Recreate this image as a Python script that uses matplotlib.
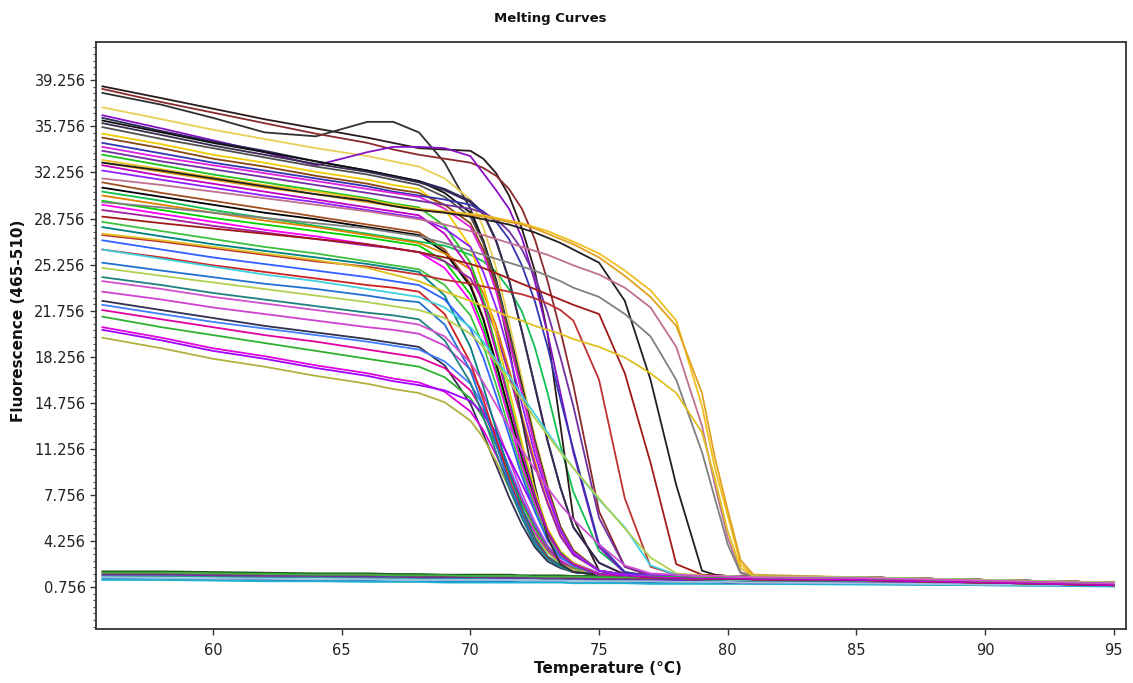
import matplotlib
matplotlib.use("Agg")
from matplotlib import pyplot as plt
from matplotlib.ticker import FixedLocator
import numpy as np

# temperature grid (deg C) shared by every curve
temps = [55.7, 58, 60, 62, 64, 66, 67, 68, 69, 70, 70.5, 71, 71.5, 72, 72.5,
         73, 73.5, 74, 75, 76, 77, 78, 79, 79.5, 80, 80.5, 81, 85, 90, 95]

# upper part of the main melting cluster
high_curves = [
    [38.8, 37.9, 37.1, 36.3, 35.6, 34.9, 34.5, 34.1, 34.0, 33.9, 33.3, 32.2, 30.5, 28.0, 24.8, 20.0, 13.0, 6.0, 2.0, 1.7, 1.6, 1.55, 1.5, 1.5, 1.5, 1.5, 1.45, 1.4, 1.2, 1.0],
    [38.3, 37.4, 36.4, 35.3, 35.0, 36.1, 36.1, 35.3, 33.0, 29.5, 27.0, 23.5, 19.0, 13.5, 8.5, 4.5, 2.5, 1.9, 1.7, 1.65, 1.6, 1.55, 1.5, 1.5, 1.5, 1.5, 1.45, 1.4, 1.2, 1.0],
    [38.6, 37.6, 36.8, 36.0, 35.2, 34.5, 34.0, 33.6, 33.3, 33.0, 32.6, 32.0, 31.0, 29.5, 27.2, 24.0, 20.2, 16.1, 6.5, 2.3, 1.6, 1.55, 1.5, 1.5, 1.5, 1.5, 1.45, 1.4, 1.2, 1.0],
    [37.2, 36.3, 35.5, 34.8, 34.1, 33.5, 33.1, 32.7, 31.8, 30.2, 28.1, 25.0, 20.9, 16.6, 12.2, 8.5, 5.4, 3.6, 2.0, 1.7, 1.7, 1.65, 1.6, 1.6, 1.6, 1.55, 1.55, 1.5, 1.3, 1.1],
    [36.6, 35.6, 34.7, 33.8, 32.8, 33.8, 34.2, 34.2, 34.1, 33.5, 32.2, 30.9, 29.5, 27.3, 24.0, 20.0, 15.5, 11.0, 3.8, 1.8, 1.7, 1.65, 1.6, 1.6, 1.6, 1.55, 1.55, 1.5, 1.3, 1.1],
    [36.4, 35.4, 34.6, 33.9, 33.1, 32.4, 32.0, 31.6, 31.0, 30.1, 29.2, 27.1, 24.1, 20.2, 16.1, 11.9, 8.3, 5.3, 2.6, 1.7, 1.6, 1.55, 1.5, 1.5, 1.5, 1.5, 1.45, 1.4, 1.2, 1.0],
    [36.2, 35.3, 34.5, 33.8, 33.1, 32.4, 32.0, 31.6, 30.7, 29.2, 27.1, 24.1, 20.2, 16.1, 11.9, 8.3, 5.3, 3.5, 2.0, 1.7, 1.5, 1.45, 1.4, 1.4, 1.4, 1.4, 1.35, 1.3, 1.1, 0.9],
    [36.0, 35.1, 34.3, 33.6, 32.9, 32.3, 31.9, 31.5, 30.9, 30.0, 29.1, 27.0, 24.1, 20.2, 16.0, 11.8, 8.3, 5.3, 2.6, 1.7, 1.7, 1.65, 1.6, 1.6, 1.6, 1.55, 1.55, 1.5, 1.3, 1.1],
    [35.7, 34.8, 34.1, 33.4, 32.7, 32.1, 31.7, 31.3, 30.4, 28.9, 26.9, 23.9, 20.1, 15.9, 11.8, 8.2, 5.3, 3.5, 2.0, 1.7, 1.6, 1.55, 1.5, 1.5, 1.5, 1.5, 1.45, 1.4, 1.2, 1.0],
    [35.2, 34.4, 33.6, 33.0, 32.3, 31.7, 31.3, 31.0, 29.5, 26.6, 23.7, 19.9, 15.8, 11.7, 8.1, 5.2, 3.5, 2.6, 1.7, 1.65, 1.7, 1.65, 1.6, 1.6, 1.6, 1.55, 1.55, 1.5, 1.3, 1.1],
    [34.9, 34.1, 33.3, 32.7, 32.0, 31.4, 31.0, 30.7, 29.8, 28.4, 26.4, 23.5, 19.7, 15.6, 11.6, 8.1, 5.2, 3.4, 2.0, 1.7, 1.5, 1.45, 1.4, 1.4, 1.4, 1.4, 1.35, 1.3, 1.1, 0.9],
    [34.5, 33.7, 33.0, 32.4, 31.8, 31.2, 30.8, 30.5, 30.2, 29.8, 29.3, 28.5, 27.2, 25.2, 22.5, 19.0, 15.0, 11.2, 4.0, 1.9, 1.6, 1.55, 1.5, 1.5, 1.5, 1.5, 1.45, 1.4, 1.2, 1.0],
    [34.2, 33.4, 32.8, 32.2, 31.6, 31.0, 30.7, 30.4, 29.5, 28.1, 26.1, 23.2, 19.5, 15.5, 11.5, 8.0, 5.1, 3.4, 2.0, 1.7, 1.6, 1.55, 1.5, 1.5, 1.5, 1.5, 1.45, 1.4, 1.2, 1.0],
    [33.9, 33.1, 32.5, 31.9, 31.3, 30.7, 30.4, 30.1, 29.8, 29.5, 29.2, 28.7, 27.8, 26.4, 24.4, 21.6, 18.2, 14.5, 6.0, 2.3, 1.7, 1.65, 1.6, 1.6, 1.6, 1.55, 1.55, 1.5, 1.3, 1.1],
    [33.6, 32.8, 32.1, 31.5, 30.9, 30.3, 29.9, 29.6, 28.2, 25.4, 22.6, 19.0, 15.1, 11.2, 7.8, 5.0, 3.4, 2.5, 1.7, 1.65, 1.6, 1.55, 1.5, 1.5, 1.5, 1.5, 1.45, 1.4, 1.2, 1.0],
    [32.8, 32.0, 31.4, 30.8, 30.2, 29.6, 29.3, 29.0, 27.6, 24.9, 22.2, 18.6, 14.8, 11.0, 7.7, 5.0, 3.3, 2.5, 1.7, 1.65, 1.5, 1.45, 1.4, 1.4, 1.4, 1.4, 1.35, 1.3, 1.1, 0.9],
    [32.4, 31.7, 31.1, 30.5, 30.0, 29.4, 29.1, 28.8, 28.0, 26.6, 24.7, 22.0, 18.5, 14.7, 10.9, 7.7, 5.0, 3.3, 2.0, 1.7, 1.7, 1.65, 1.6, 1.6, 1.6, 1.55, 1.55, 1.5, 1.3, 1.1],
]
high_colors = ["#2a1a1a", "#303030", "#8b2a2a", "#e8cf55", "#8a10c8", "#27275e",
               "#111111", "#3a2a50", "#505050", "#f0cc00", "#8b4513", "#3535b0",
               "#e020e0", "#7030a0", "#20c020", "#c000c0", "#9020ff"]

# middle part of the cluster
mid_curves = [
    [31.5, 30.7, 30.1, 29.5, 28.9, 28.3, 28.0, 27.7, 26.4, 23.8, 21.2, 17.8, 14.2, 10.5, 7.4, 4.8, 3.3, 2.5, 1.7, 1.65, 1.6, 1.55, 1.5, 1.5, 1.5, 1.5, 1.45, 1.4, 1.2, 1.0],
    [31.1, 30.4, 29.8, 29.2, 28.7, 28.1, 27.8, 27.5, 26.2, 23.6, 21.1, 17.7, 14.1, 10.5, 7.4, 4.8, 3.2, 2.5, 1.7, 1.65, 1.7, 1.65, 1.6, 1.6, 1.6, 1.55, 1.55, 1.5, 1.3, 1.1],
    [30.8, 30.1, 29.4, 28.8, 28.2, 27.6, 27.3, 27.0, 26.7, 26.0, 25.5, 24.7, 23.4, 21.7, 19.0, 15.5, 11.5, 8.0, 3.5, 1.9, 1.6, 1.55, 1.5, 1.5, 1.5, 1.5, 1.45, 1.4, 1.2, 1.0],
    [30.5, 29.8, 29.2, 28.6, 28.1, 27.5, 27.2, 26.9, 26.1, 24.9, 23.1, 20.6, 17.3, 13.8, 10.3, 7.2, 4.7, 3.2, 2.0, 1.7, 1.5, 1.45, 1.4, 1.4, 1.4, 1.4, 1.35, 1.3, 1.1, 0.9],
    [30.1, 29.4, 28.8, 28.3, 27.8, 27.3, 27.0, 26.7, 25.5, 23.0, 20.5, 17.2, 13.7, 10.2, 7.2, 4.7, 3.2, 2.5, 1.7, 1.65, 1.6, 1.55, 1.5, 1.5, 1.5, 1.5, 1.45, 1.4, 1.2, 1.0],
    [29.8, 29.1, 28.5, 27.9, 27.4, 26.8, 26.5, 26.2, 25.0, 22.5, 20.1, 16.9, 13.5, 10.0, 7.1, 4.6, 3.2, 2.4, 1.7, 1.65, 1.7, 1.65, 1.6, 1.6, 1.6, 1.55, 1.55, 1.5, 1.3, 1.1],
    [29.4, 28.8, 28.2, 27.7, 27.2, 26.7, 26.5, 26.2, 25.5, 24.2, 22.5, 20.1, 16.9, 13.5, 10.0, 7.1, 4.6, 3.2, 2.0, 1.7, 1.6, 1.55, 1.5, 1.5, 1.5, 1.5, 1.45, 1.4, 1.2, 1.0],
    [28.5, 27.8, 27.2, 26.6, 26.1, 25.5, 25.2, 24.9, 23.7, 21.4, 19.1, 16.1, 12.8, 9.6, 6.8, 4.5, 3.1, 2.4, 1.7, 1.65, 1.5, 1.45, 1.4, 1.4, 1.4, 1.4, 1.35, 1.3, 1.1, 0.9],
    [28.1, 27.4, 26.8, 26.3, 25.8, 25.3, 25.0, 24.7, 22.9, 19.0, 16.0, 12.7, 9.5, 6.8, 4.5, 3.1, 2.4, 1.9, 1.7, 1.65, 1.6, 1.55, 1.5, 1.5, 1.5, 1.5, 1.45, 1.4, 1.2, 1.0],
    [27.1, 26.4, 25.8, 25.3, 24.8, 24.3, 24.0, 23.7, 22.6, 20.4, 18.2, 15.3, 12.3, 9.2, 6.5, 4.3, 3.0, 2.4, 1.7, 1.65, 1.7, 1.65, 1.6, 1.6, 1.6, 1.55, 1.55, 1.5, 1.3, 1.1],
    [26.4, 25.8, 25.2, 24.7, 24.2, 23.7, 23.5, 23.2, 21.5, 17.8, 15.0, 12.0, 9.0, 6.4, 4.3, 3.0, 2.3, 1.9, 1.7, 1.65, 1.5, 1.45, 1.4, 1.4, 1.4, 1.4, 1.35, 1.3, 1.1, 0.9],
    [25.4, 24.8, 24.3, 23.8, 23.4, 22.9, 22.6, 22.4, 20.7, 17.2, 14.5, 11.6, 8.7, 6.3, 4.2, 2.9, 2.3, 1.9, 1.7, 1.65, 1.6, 1.55, 1.5, 1.5, 1.5, 1.5, 1.45, 1.4, 1.2, 1.0],
    [24.3, 23.7, 23.1, 22.6, 22.1, 21.6, 21.4, 21.1, 19.5, 16.3, 13.7, 11.0, 8.3, 6.0, 4.0, 2.9, 2.3, 1.9, 1.7, 1.65, 1.7, 1.65, 1.6, 1.6, 1.6, 1.55, 1.55, 1.5, 1.3, 1.1],
]
mid_colors = ["#a05020", "#000000", "#10c050", "#e08000", "#00d000", "#ff00ff",
              "#a020a0", "#40c040", "#008080", "#3060ff", "#d02020", "#2070d0",
              "#208080"]

# lowest part of the cluster
low_curves = [
    [23.2, 22.6, 22.0, 21.5, 21.0, 20.5, 20.3, 20.0, 19.1, 17.3, 15.4, 13.0, 10.5, 7.9, 5.7, 3.9, 2.8, 2.2, 1.7, 1.65, 1.5, 1.45, 1.4, 1.4, 1.4, 1.4, 1.35, 1.3, 1.1, 0.9],
    [22.5, 21.8, 21.2, 20.6, 20.1, 19.6, 19.3, 19.0, 17.6, 14.7, 12.4, 10.0, 7.6, 5.5, 3.8, 2.7, 2.2, 1.9, 1.7, 1.65, 1.6, 1.55, 1.5, 1.5, 1.5, 1.5, 1.45, 1.4, 1.2, 1.0],
    [22.2, 21.5, 20.9, 20.4, 19.9, 19.4, 19.1, 18.8, 17.9, 16.2, 14.5, 12.3, 9.9, 7.5, 5.5, 3.8, 2.7, 2.2, 1.7, 1.65, 1.7, 1.65, 1.6, 1.6, 1.6, 1.55, 1.55, 1.5, 1.3, 1.1],
    [21.8, 21.1, 20.5, 19.9, 19.4, 18.8, 18.5, 18.2, 17.4, 15.7, 14.1, 11.9, 9.6, 7.3, 5.3, 3.7, 2.7, 2.2, 1.7, 1.65, 1.6, 1.55, 1.5, 1.5, 1.5, 1.5, 1.45, 1.4, 1.2, 1.0],
    [21.3, 20.5, 19.9, 19.3, 18.7, 18.1, 17.8, 17.5, 16.7, 15.1, 13.6, 11.5, 9.3, 7.1, 5.2, 3.6, 2.6, 2.2, 1.7, 1.65, 1.5, 1.45, 1.4, 1.4, 1.4, 1.4, 1.35, 1.3, 1.1, 0.9],
    [20.5, 19.7, 18.9, 18.3, 17.6, 17.0, 16.6, 16.3, 15.6, 14.1, 12.7, 10.8, 8.7, 6.7, 4.9, 3.5, 2.6, 2.1, 1.7, 1.65, 1.7, 1.65, 1.6, 1.6, 1.6, 1.55, 1.55, 1.5, 1.3, 1.1],
    [20.3, 19.5, 18.7, 18.1, 17.4, 16.8, 16.4, 16.1, 15.7, 14.9, 13.9, 12.5, 10.6, 8.6, 6.6, 4.9, 3.4, 2.6, 1.8, 1.7, 1.6, 1.55, 1.5, 1.5, 1.5, 1.5, 1.45, 1.4, 1.2, 1.0],
    [19.7, 18.9, 18.1, 17.5, 16.8, 16.2, 15.8, 15.5, 14.8, 13.4, 12.1, 10.3, 8.3, 6.4, 4.7, 3.4, 2.5, 2.1, 1.7, 1.65, 1.5, 1.45, 1.4, 1.4, 1.4, 1.4, 1.35, 1.3, 1.1, 0.9],
]
low_colors = ["#d040d0", "#303050", "#4080ff", "#e000a0", "#30b030", "#e000e0",
              "#a000ff", "#b0b040"]

# curves that melt late or slowly
late_curves = [
    [33.2, 32.5, 31.9, 31.3, 30.8, 30.2, 29.8, 29.5, 29.3, 29.1, 29.0, 28.8, 28.6, 28.4, 28.1, 27.8, 27.4, 27.0, 26.1, 24.8, 23.3, 21.0, 14.5, 9.8, 6.2, 2.5, 1.6, 1.5, 1.3, 1.1],
    [33.0, 32.3, 31.7, 31.1, 30.6, 30.0, 29.7, 29.4, 29.2, 29.0, 28.9, 28.7, 28.5, 28.3, 28.0, 27.6, 27.2, 26.8, 25.8, 24.4, 22.8, 20.6, 15.5, 10.6, 6.6, 2.8, 1.7, 1.5, 1.3, 1.1],
    [33.0, 32.4, 31.8, 31.2, 30.6, 30.1, 29.7, 29.4, 29.2, 28.9, 28.7, 28.5, 28.3, 28.0, 27.7, 27.3, 26.9, 26.4, 25.4, 22.5, 16.5, 8.5, 2.0, 1.7, 1.6, 1.6, 1.55, 1.5, 1.3, 1.1],
    [31.8, 31.3, 30.8, 30.3, 29.8, 29.3, 29.0, 28.7, 28.3, 27.8, 27.5, 27.2, 26.9, 26.6, 26.3, 26.0, 25.6, 25.2, 24.5, 23.5, 22.0, 19.0, 13.0, 8.5, 4.5, 1.9, 1.6, 1.5, 1.3, 1.1],
    [30.0, 29.6, 29.2, 28.8, 28.4, 28.0, 27.7, 27.4, 26.9, 26.3, 26.0, 25.7, 25.4, 25.1, 24.8, 24.4, 24.0, 23.5, 22.8, 21.5, 19.8, 16.5, 11.0, 7.5, 4.0, 1.8, 1.6, 1.5, 1.3, 1.1],
    [28.9, 28.4, 28.0, 27.6, 27.2, 26.8, 26.5, 26.2, 25.8, 25.3, 25.0, 24.6, 24.2, 23.8, 23.4, 23.0, 22.6, 22.2, 21.5, 17.0, 10.2, 2.5, 1.7, 1.65, 1.6, 1.6, 1.55, 1.5, 1.3, 1.1],
    [27.5, 27.0, 26.5, 26.0, 25.5, 25.1, 24.8, 24.5, 24.1, 23.8, 23.6, 23.4, 23.2, 23.0, 22.7, 22.3, 21.8, 21.0, 16.5, 7.5, 2.3, 1.7, 1.6, 1.6, 1.6, 1.55, 1.55, 1.5, 1.3, 1.1],
    [27.6, 27.1, 26.6, 26.1, 25.6, 25.0, 24.5, 24.0, 23.2, 22.5, 22.1, 21.7, 21.3, 21.0, 20.6, 20.3, 20.0, 19.6, 19.0, 18.2, 17.0, 15.5, 12.5, 9.0, 5.0, 2.2, 1.6, 1.5, 1.3, 1.1],
    [26.4, 25.7, 25.1, 24.5, 24.0, 23.4, 23.1, 22.8, 22.0, 20.5, 19.4, 18.0, 16.8, 15.3, 13.9, 12.5, 11.1, 9.8, 7.4, 5.3, 2.4, 1.7, 1.6, 1.6, 1.6, 1.55, 1.55, 1.5, 1.3, 1.1],
    [25.0, 24.4, 23.9, 23.4, 22.9, 22.4, 22.1, 21.8, 21.2, 20.0, 19.0, 17.8, 16.4, 15.0, 13.6, 12.3, 11.0, 9.8, 7.5, 5.2, 3.0, 1.8, 1.65, 1.6, 1.6, 1.55, 1.55, 1.5, 1.3, 1.1],
    [24.0, 23.4, 22.8, 22.3, 21.8, 21.3, 21.0, 20.7, 19.8, 17.8, 16.3, 14.6, 12.9, 11.2, 9.7, 8.3, 7.0, 5.9, 4.0, 2.4, 1.8, 1.7, 1.6, 1.6, 1.55, 1.55, 1.5, 1.45, 1.25, 1.05],
]
late_colors = ["#f0c020", "#e0a020", "#202020", "#c07090", "#808080", "#a01818",
               "#c03030", "#e0c020", "#40d0e0", "#b0d050", "#d050d0"]

# negative controls, flat near the bottom
baseline_curves = [
    [1.95, 1.95, 1.9, 1.85, 1.8, 1.8, 1.75, 1.75, 1.7, 1.7, 1.7, 1.7, 1.7, 1.65, 1.65, 1.65, 1.65, 1.6, 1.6, 1.6, 1.55, 1.55, 1.5, 1.5, 1.5, 1.5, 1.45, 1.4, 1.25, 1.1],
    [1.4, 1.35, 1.3, 1.3, 1.25, 1.25, 1.2, 1.2, 1.2, 1.2, 1.2, 1.2, 1.2, 1.2, 1.2, 1.2, 1.2, 1.15, 1.15, 1.1, 1.1, 1.1, 1.05, 1.05, 1.05, 1.05, 1.0, 1.0, 0.9, 0.85],
    [1.3, 1.3, 1.25, 1.2, 1.2, 1.15, 1.15, 1.15, 1.1, 1.1, 1.1, 1.1, 1.1, 1.1, 1.1, 1.1, 1.1, 1.05, 1.05, 1.05, 1.0, 1.0, 1.0, 1.0, 1.0, 1.0, 1.0, 0.95, 0.9, 0.8],
    [1.8, 1.8, 1.75, 1.7, 1.65, 1.6, 1.6, 1.6, 1.55, 1.55, 1.55, 1.55, 1.5, 1.5, 1.5, 1.5, 1.5, 1.45, 1.45, 1.4, 1.4, 1.4, 1.35, 1.35, 1.35, 1.35, 1.3, 1.3, 1.2, 1.05],
    [1.6, 1.6, 1.55, 1.5, 1.5, 1.45, 1.45, 1.45, 1.4, 1.4, 1.4, 1.4, 1.4, 1.4, 1.4, 1.35, 1.35, 1.35, 1.3, 1.3, 1.3, 1.3, 1.25, 1.25, 1.2, 1.2, 1.2, 1.15, 1.05, 0.95],
    [1.7, 1.7, 1.65, 1.6, 1.6, 1.55, 1.55, 1.5, 1.5, 1.5, 1.5, 1.45, 1.45, 1.45, 1.45, 1.4, 1.4, 1.4, 1.35, 1.35, 1.3, 1.3, 1.2, 1.15, 1.1, 1.1, 1.1, 1.1, 1.05, 0.95],
    [1.5, 1.45, 1.4, 1.4, 1.35, 1.35, 1.3, 1.3, 1.3, 1.3, 1.3, 1.3, 1.3, 1.25, 1.25, 1.25, 1.25, 1.2, 1.2, 1.2, 1.2, 1.15, 1.15, 1.15, 1.15, 1.1, 1.1, 1.05, 0.95, 0.9],
    [1.85, 1.85, 1.8, 1.75, 1.7, 1.7, 1.65, 1.65, 1.65, 1.6, 1.6, 1.6, 1.6, 1.6, 1.55, 1.55, 1.55, 1.55, 1.5, 1.5, 1.5, 1.5, 1.45, 1.45, 1.45, 1.4, 1.4, 1.35, 1.25, 1.1],
]
baseline_colors = ["#1c5c1c", "#1f77c8", "#20b0d0", "#a03030", "#20a090",
                   "#7030a0", "#a0c0e0", "#40b040"]

y_ticks = np.arange(0.756, 39.3, 3.5)
x_ticks = [60, 65, 70, 75, 80, 85, 90, 95]

fig = plt.figure(figsize=(11.33, 6.83), dpi=100)
ax = fig.add_axes([0.0847, 0.079, 0.909, 0.859])

groups = [(baseline_curves, baseline_colors), (low_curves, low_colors),
          (mid_curves, mid_colors), (high_curves, high_colors),
          (late_curves, late_colors)]
for curves, colors in groups:
    for vals, col in zip(curves, colors):
        ax.plot(temps, vals, color=col, lw=1.3, solid_joinstyle="round")

ax.set_xlim(55.45, 95.47)
ax.set_ylim(-2.43, 42.14)

ax.set_yticks(y_ticks)
ax.set_yticklabels(["%.3f" % v for v in y_ticks])
ax.yaxis.set_minor_locator(FixedLocator(np.arange(0.756 - 3.5, 42.0, 0.5)))
ax.set_xticks(x_ticks)

ax.tick_params(axis="both", which="major", labelsize=10.5, colors="#333333",
               labelcolor="#222222", length=4, width=1)
ax.tick_params(axis="y", which="minor", length=2.5, width=0.8, colors="#555555")
ax.tick_params(axis="x", pad=6)

for sp in ax.spines.values():
    sp.set_color("#333333")
    sp.set_linewidth(1.3)

fig.text(0.4855, 0.973, "Melting Curves", ha="center", va="center",
         fontsize=9.5, fontweight="bold", color="#111111")
fig.text(0.537, 0.021, "Temperature (\u00b0C)", ha="center", va="center",
         fontsize=11, fontweight="bold", color="#111111")
fig.text(0.016, 0.531, "Fluorescence (465-510)", ha="center", va="center",
         rotation=90, fontsize=11, fontweight="bold", color="#111111")

fig.savefig("out.png", dpi=100)
